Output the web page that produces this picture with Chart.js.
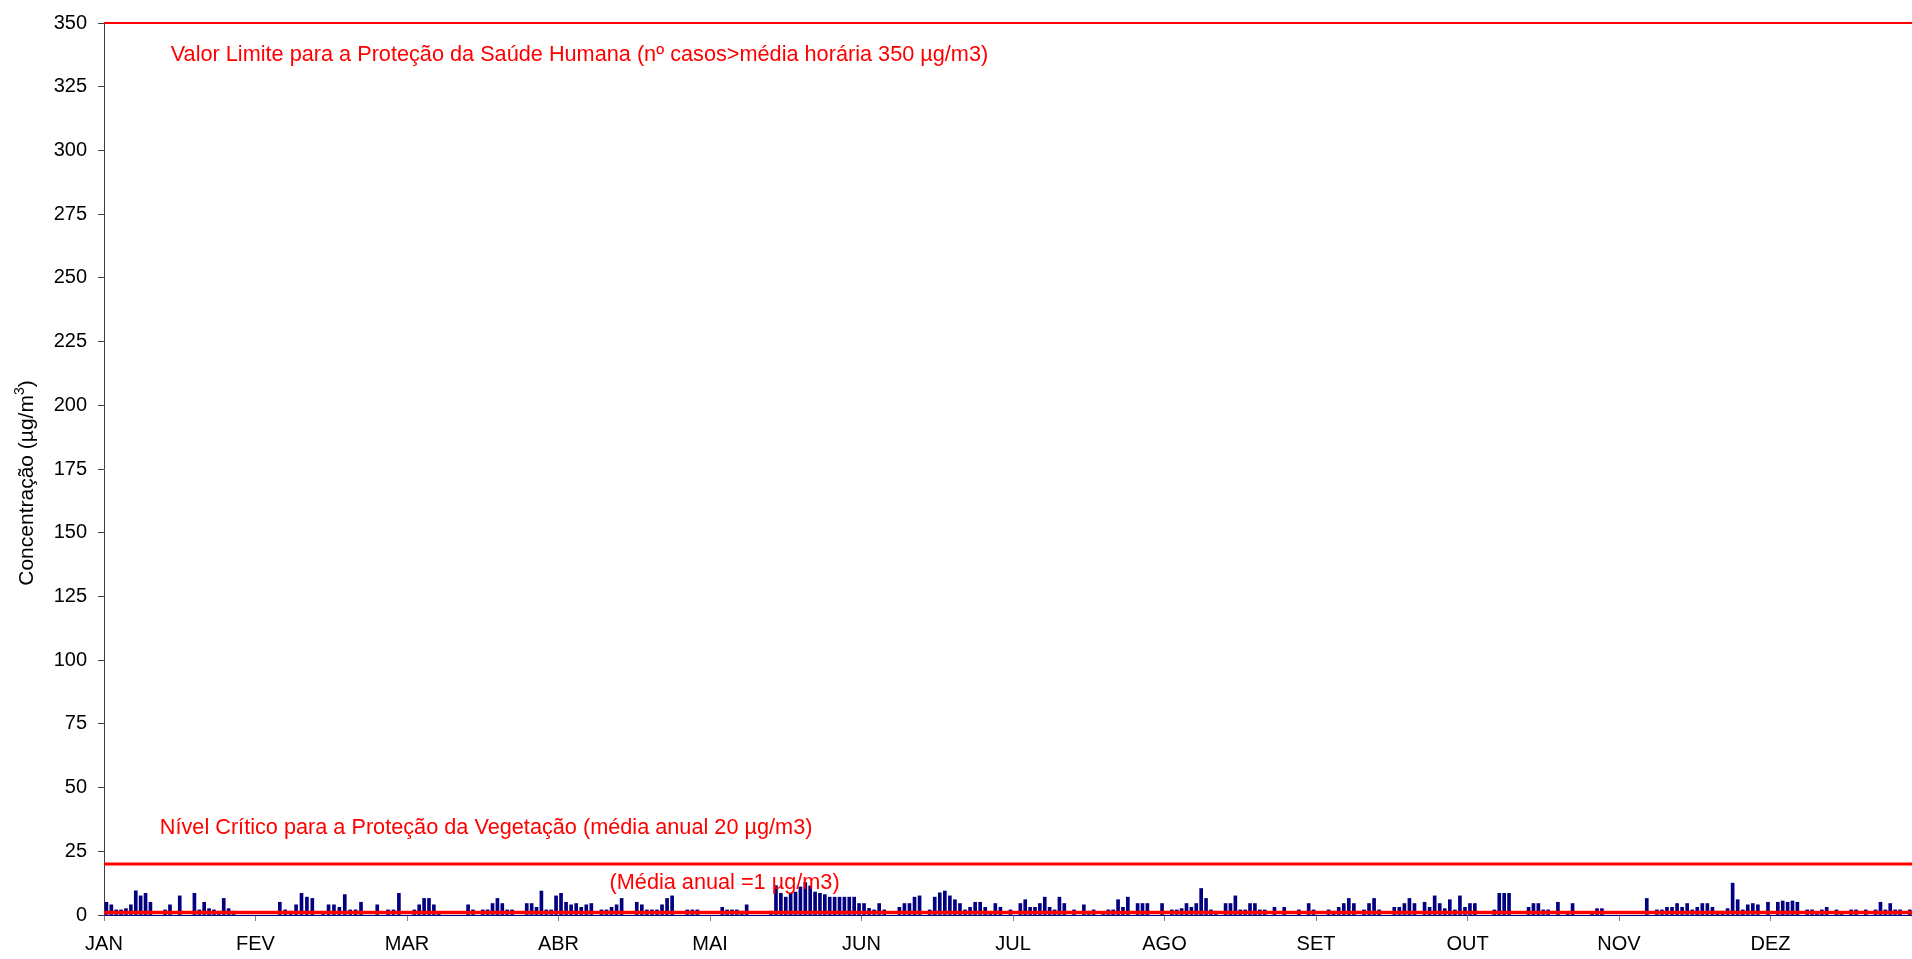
<!DOCTYPE html>
<html>
<head>
<meta charset="utf-8">
<script src="https://cdn.jsdelivr.net/npm/chart.js@4/dist/chart.umd.min.js"></script>
<style>
  html, body { margin: 0; padding: 0; background: #fff; overflow: hidden; }
  #wrap { width: 1930px; height: 959px; }
</style>
</head>
<body>
<div id="wrap"><canvas id="so2Chart"></canvas></div>
<script>
// month labels on the x axis (equally spaced)
const months = ["JAN", "FEV", "MAR", "ABR", "MAI", "JUN", "JUL", "AGO", "SET", "OUT", "NOV", "DEZ"];

// daily peak values (µg/m3), null = no bar
const jan = [5, 4, 2, 2, 2.5, 4, 9.5, 7.5, 8.5, 5, null, null, 2, 4, null, 7.5, null, null, 8.5, 2, 5, 2.5, 2, 1.5, 6.5, 2.5, 1.5, null, null, null, null];
const fev = [null, null, null, null, 5, 2, 1.5, 4, 8.5, 7, 6.5, null, 0.5, 4, 4, 3, 8, 2, 2, 5, null, null, 4, null, 2, 2, 8.5, null];
const mar = [null, 2, 4, 6.5, 6.5, 4, 1.3, null, null, null, null, null, 4, 2, null, 2, 2, 4.5, 6.5, 4.5, 2, 2, null, null, 4.5, 4.5, 3, 9.4, 2, 2, 7.5];
const abr = [8.5, 5, 4, 4.5, 3, 4, 4.5, null, 2, 2, 3, 4, 6.5, null, null, 5, 4, 2, 2, 2, 4, 6.5, 7.5, null, null, 2, 2, 2, null, null];
const mai = [null, null, 3, 2, 2, 2, 1.5, 4, null, null, null, null, 1.5, 11.5, 8.5, 7, 8.5, 9, 11, 12.7, 11.4, 9, 8.5, 8, 7, 7, 7, 7, 7, 7, 4.5];
const jun = [4.5, 2.6, 2, 4.5, 2, null, null, 3, 4.5, 4.5, 7, 7.5, null, 2, 7, 8.7, 9.4, 7.5, 6, 4.5, 2, 3, 5, 5, 3, 1.3, 4.5, 3, null, 2];
const jul = [null, 4.5, 6, 3, 3, 4.5, 7, 3, 2, 7, 4.5, null, 2, null, 4, 1.5, 2, null, 1.3, 2, 2, 6, 3, 7, null, 4.5, 4.5, 4.5, null, null, 4.5];
const ago = [null, 2, 2, 2.5, 4.5, 3, 4.5, 10.4, 6.5, 2, 1.5, null, 4.5, 4.5, 7.5, 2, 2, 4.5, 4.5, 2, 2, null, 3, null, 3, null, null, 2, null, 4.5, 2];
const set = [null, null, 2, 1.5, 3, 4.5, 6.5, 4.5, null, 2, 4.5, 6.5, 2, null, null, 3, 3, 4.5, 6.5, 4.5, null, 5, 3, 7.5, 4.5, 2.5, 6, 2, 7.5, 3];
const out = [4.5, 4.5, null, null, null, 2, 8.5, 8.5, 8.5, null, null, null, 3, 4.5, 4.5, 2, 2, null, 5, null, 1.3, 4.5, null, null, null, 1.3, 2.5, 2.5, null, null, null];
const nov = [null, null, null, null, null, 6.5, null, 2, 2, 3, 3, 4.5, 3, 4.5, 2, 3, 4.5, 4.5, 3, 1.5, 1.5, 2.5, 12.5, 6, 2, 4, 4.5, 4, null, 5];
const dez = [null, 5, 5.5, 5, 5.5, 5, null, 2, 2, 1.3, 2, 3, null, 2, 1.3, null, 2, 2, null, 2, null, 2, 5, 2, 4.5, 2, 2, null, 2, 2, 2];

const monthData = [jan, fev, mar, abr, mai, jun, jul, ago, set, out, nov, dez];

// reference lines
const limiteSaude = 350;
const nivelCritico = 20;
const mediaAnual = 1;

const monthSpan = 365 / 12;

// build points: each month spread over its equal slot on the axis
const points = [];
monthData.forEach(function (days, m) {
  days.forEach(function (v, d) {
    if (v === null) return;
    points.push({ x: m * monthSpan + (d + 0.5) * monthSpan / days.length, y: v });
  });
});

function hLine(value) {
  return [{ x: 0, y: value }, { x: 365, y: value }];
}

const FONT = "'Liberation Sans', Arial, sans-serif";

// red texts and axis title
const labelsPlugin = {
  id: "labels",
  afterDatasetsDraw(chart) {
    const ctx = chart.ctx;
    const xs = chart.scales.x;
    const ys = chart.scales.y;
    ctx.save();
    ctx.font = "21.7px " + FONT;
    ctx.fillStyle = "#ff0000";
    ctx.textBaseline = "middle";
    ctx.textAlign = "left";
    ctx.fillText("Valor Limite para a Proteção da Saúde Humana (nº casos>média horária 350 µg/m3)", xs.getPixelForValue(13.4), ys.getPixelForValue(337.5));
    ctx.fillText("Nível Crítico para a Proteção da Vegetação (média anual 20 µg/m3)", xs.getPixelForValue(11.2), ys.getPixelForValue(34));
    ctx.fillText("(Média anual =1 µg/m3)", xs.getPixelForValue(101.5), ys.getPixelForValue(12.5));

    // y axis title with superscript
    const main = "Concentração (µg/m";
    ctx.fillStyle = "#000";
    ctx.translate(27, (ys.top + ys.bottom) / 2 + 14);
    ctx.rotate(-Math.PI / 2);
    ctx.font = "21px " + FONT;
    const w1 = ctx.measureText(main).width;
    ctx.font = "14px " + FONT;
    const w2 = ctx.measureText("3").width;
    ctx.font = "21px " + FONT;
    const w3 = ctx.measureText(")").width;
    const start = -(w1 + w2 + w3) / 2;
    ctx.fillText(main, start, 0);
    ctx.font = "14px " + FONT;
    ctx.fillText("3", start + w1, -7);
    ctx.font = "21px " + FONT;
    ctx.fillText(")", start + w1 + w2, 0);
    ctx.restore();
  }
};

const ctx = document.getElementById("so2Chart").getContext("2d");
new Chart(ctx, {
  data: {
    datasets: [
      {
        type: "line",
        data: hLine(limiteSaude),
        borderColor: "#ff0000",
        borderWidth: 2,
        pointRadius: 0,
        clip: false,
        order: 0
      },
      {
        type: "line",
        data: hLine(nivelCritico),
        borderColor: "#ff0000",
        borderWidth: 3,
        pointRadius: 0,
        clip: false,
        order: 0
      },
      {
        type: "line",
        data: hLine(mediaAnual),
        borderColor: "#ff0000",
        borderWidth: 3.5,
        pointRadius: 0,
        clip: false,
        order: 0
      },
      {
        type: "bar",
        data: points,
        backgroundColor: "#000080",
        barThickness: 3,
        order: 1
      }
    ]
  },
  options: {
    responsive: true,
    maintainAspectRatio: false,
    animation: false,
    layout: { padding: { top: 21, right: 8, left: 0, bottom: 0 } },
    plugins: {
      legend: { display: false },
      tooltip: { enabled: false }
    },
    scales: {
      x: {
        type: "linear",
        min: 0,
        max: 365,
        offset: false,
        afterBuildTicks: function (scale) {
          scale.ticks = months.map(function (m, i) { return { value: i * monthSpan }; });
        },
        afterFit: function (scale) { scale.height = 44; },
        ticks: {
          autoSkip: false,
          maxRotation: 0,
          padding: 11,
          color: "#000",
          font: { size: 20, family: FONT },
          callback: function (value, index) { return months[index]; }
        },
        grid: { offset: false, drawOnChartArea: false, drawTicks: true, tickLength: 6, color: "#808080" },
        border: { color: "#000080", width: 1 }
      },
      y: {
        min: 0,
        max: 350,
        afterFit: function (scale) { scale.width = 104; },
        ticks: {
          stepSize: 25,
          padding: 11,
          color: "#000",
          font: { size: 20, family: FONT }
        },
        grid: { drawOnChartArea: false, drawTicks: true, tickLength: 6, color: "#404040" },
        border: { color: "#404040", width: 1 }
      }
    }
  },
  plugins: [labelsPlugin]
});
</script>
</body>
</html>
